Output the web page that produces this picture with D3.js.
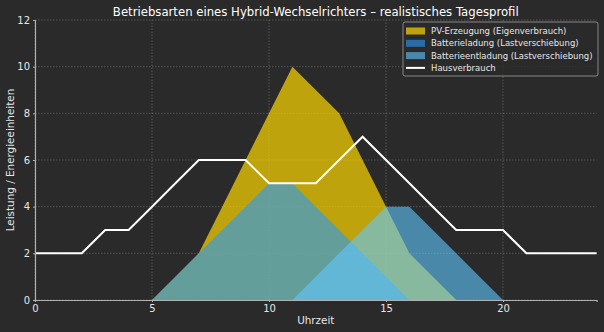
<!DOCTYPE html>
<html><head><meta charset="utf-8">
<script src="https://cdn.jsdelivr.net/npm/d3@7"></script>
<style>html,body{margin:0;padding:0;background:#2a2a2a;}svg{display:block;}</style>
</head><body>
<script>
const hours = d3.range(0, 25);
const pvValues      = [0,0,0,0,0,0,1,2,4,6,8,10,9,8,6,4,2,1,0,0,0,0,0,0,0];
const ladungValues  = [0,0,0,0,0,0,1,2,3,4,5,5,4,3,2,1,0,0,0,0,0,0,0,0,0];
const entladValues  = [0,0,0,0,0,0,0,0,0,0,0,0,1,2,3,4,4,3,2,1,0,0,0,0,0];
const hausValues    = [2,2,2,3,3,4,5,6,6,6,5,5,5,6,7,6,5,4,3,3,3,2,2,2,2];
const xTicks = [0,5,10,15,20];
const yTicks = [0,2,4,6,8,10,12];
const seriesNames = ["PV-Erzeugung (Eigenverbrauch)","Batterieladung (Lastverschiebung)","Batterieentladung (Lastverschiebung)","Hausverbrauch"];
const titleText = "Betriebsarten eines Hybrid-Wechselrichters – realistisches Tagesprofil";

const W = 604, H = 332;
const m = {l:35, r:7.4, t:20, b:32};
const svg = d3.select("body").append("svg").attr("width", W).attr("height", H);
svg.append("rect").attr("width", W).attr("height", H).attr("fill", "#2a2a2a");

const x = d3.scaleLinear().domain([0,24]).range([m.l, W - m.r]);
const y = d3.scaleLinear().domain([0,12]).range([H - m.b, m.t]);

// grid
const grid = svg.append("g").attr("stroke", "#8a8a8a").attr("stroke-opacity", 0.55)
  .attr("stroke-width", 0.8).attr("stroke-dasharray", "1.5,1.5");
xTicks.forEach(t => grid.append("line").attr("x1", x(t)).attr("x2", x(t)).attr("y1", y(0)).attr("y2", y(12)));
yTicks.forEach(t => grid.append("line").attr("x1", x(0)).attr("x2", x(24)).attr("y1", y(t)).attr("y2", y(t)));

const area = vals => d3.area().x((d,i) => x(hours[i])).y0(y(0)).y1((d) => y(d))(vals);
svg.append("path").attr("d", area(pvValues)).attr("fill", "rgb(255,215,0)").attr("fill-opacity", 0.7);
svg.append("path").attr("d", area(ladungValues)).attr("fill", "rgb(40,155,250)").attr("fill-opacity", 0.6);
svg.append("path").attr("d", area(entladValues)).attr("fill", "rgb(97,200,255)").attr("fill-opacity", 0.6);

const line = d3.line().x((d,i) => x(hours[i])).y(d => y(d));
svg.append("path").attr("d", line(hausValues)).attr("fill", "none").attr("stroke", "#ffffff").attr("stroke-width", 2).attr("stroke-linejoin", "miter");

// axes
const font = "DejaVu Sans, sans-serif";
const xAxis = svg.append("g").attr("transform", `translate(0,${y(0)})`)
  .call(d3.axisBottom(x).tickValues(xTicks).tickSize(2).tickPadding(3));
const yAxis = svg.append("g").attr("transform", `translate(${x(0)},0)`)
  .call(d3.axisLeft(y).tickValues(yTicks).tickSize(2).tickPadding(3));
[xAxis, yAxis].forEach(g => {
  g.select(".domain").attr("stroke", "#b0b0b0").attr("stroke-width", 1.2);
  g.selectAll(".tick line").attr("stroke", "#b0b0b0");
  g.selectAll(".tick text").attr("fill", "#e6e6e6").style("font-family", font).style("font-size", "10px");
});

svg.append("text").attr("x", (x(0)+x(24))/2).attr("y", 15.5).attr("text-anchor", "middle")
  .attr("fill", "#ffffff").style("font-family", font).style("font-size", "11.7px").text(titleText);
svg.append("text").attr("x", (x(0)+x(24))/2).attr("y", 324).attr("text-anchor", "middle")
  .attr("fill", "#e6e6e6").style("font-family", font).style("font-size", "10.4px").text("Uhrzeit");
svg.append("text").attr("transform", `translate(14,${(y(0)+y(12))/2}) rotate(-90)`).attr("text-anchor", "middle")
  .attr("fill", "#e6e6e6").style("font-family", font).style("font-size", "10.4px").text("Leistung / Energieeinheiten");

// legend
const lg = svg.append("g").attr("transform", "translate(403,22)");
lg.append("rect").attr("x", 0).attr("y", 0).attr("width", 195).attr("height", 54).attr("rx", 2)
  .attr("fill", "#2a2a2a").attr("fill-opacity", 0.8).attr("stroke", "#a0a0a0").attr("stroke-width", 0.8);
const swatch = [
  {c:"rgb(255,215,0)", o:0.7},
  {c:"rgb(40,155,250)", o:0.6},
  {c:"rgb(97,200,255)", o:0.6}
];
seriesNames.forEach((n,i) => {
  const cy = 9 + i*12.3;
  if (i < 3) {
    lg.append("rect").attr("x", 3).attr("y", cy-3.5).attr("width", 19).attr("height", 7)
      .attr("fill", swatch[i].c).attr("fill-opacity", swatch[i].o);
  } else {
    lg.append("line").attr("x1", 3).attr("x2", 22).attr("y1", cy).attr("y2", cy).attr("stroke", "#fff").attr("stroke-width", 2);
  }
  lg.append("text").attr("x", 28).attr("y", cy + 3.1).attr("fill", "#e6e6e6")
    .style("font-family", font).style("font-size", "8.5px").text(n);
});
</script>
</body></html>
